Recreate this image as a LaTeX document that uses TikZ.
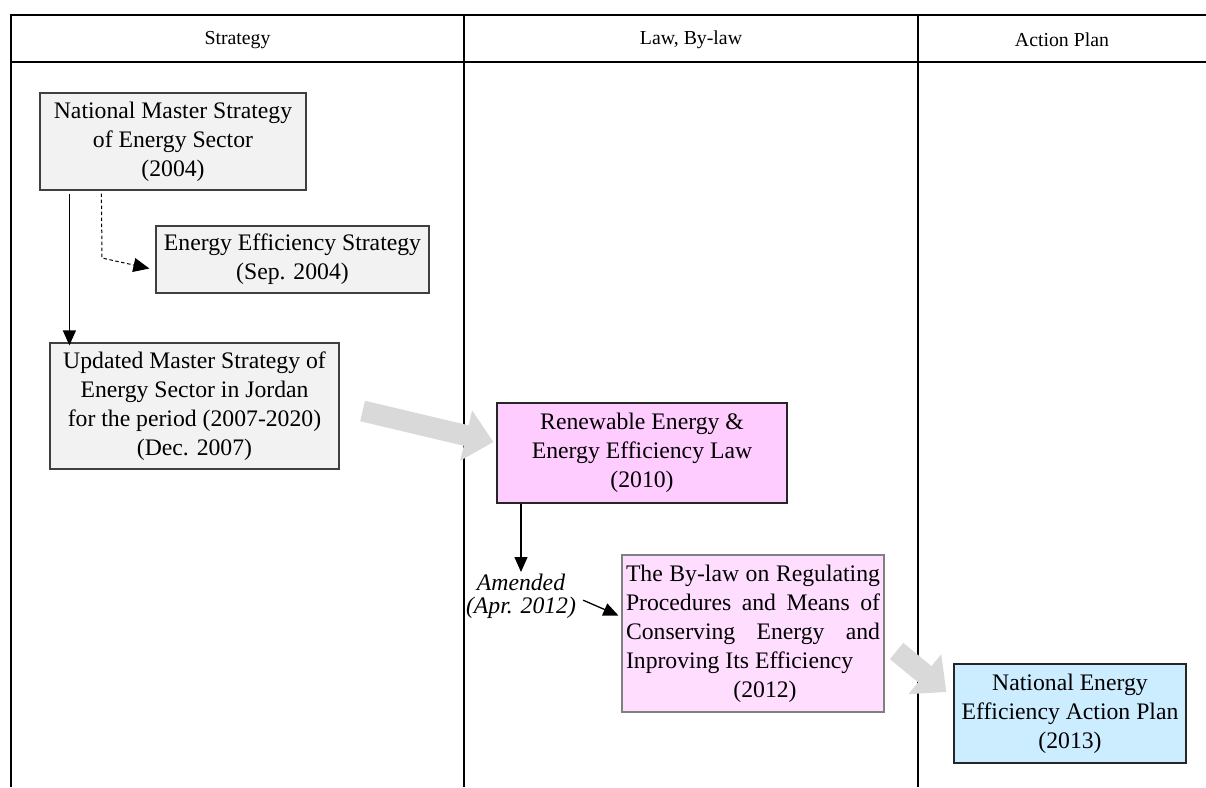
\documentclass[tikz,border=0pt]{standalone}
\usepackage{fontspec}
\setmainfont{Liberation Serif}
\usetikzlibrary{arrows.meta,calc}

\definecolor{boxgray}{HTML}{F2F2F2}
\definecolor{edgegray}{HTML}{3F3F3F}
\definecolor{lawpink}{HTML}{FFCCFF}
\definecolor{bylawpink}{HTML}{FFDDFF}
\definecolor{planblue}{HTML}{CCECFF}
\definecolor{flowgray}{HTML}{D9D9D9}

\newcommand\diagbody{\fontsize{23.7}{29}\selectfont}
\newcommand\diaghead{\fontsize{19.8}{23}\selectfont}

\begin{document}
\begin{tikzpicture}[x=1pt,y=-1pt,
  rule/.style={line width=2.6pt},
  boxbase/.style={draw, line width=1.2pt, inner sep=0pt, align=center, font=\diagbody},
  graybox/.style={boxbase, fill=boxgray, draw=edgegray},
  lawbox/.style={boxbase, fill=lawpink, draw=black!85},
  bylawbox/.style={boxbase, fill=bylawpink, draw=black!50},
  planbox/.style={boxbase, fill=planblue, draw=black!85},
  head/.style={font=\diaghead, inner sep=0pt},
  arr/.style={line width=1.3pt, -{Triangle[length=15pt,width=13pt]}},
  dasharr/.style={line width=1pt, dash pattern=on 3.5pt off 2.5pt, -{Triangle[length=16pt,width=14pt]}},
  bigarr/.style={line width=21pt, draw=flowgray, -{Triangle[length=28pt,width=50pt]}}
]
\useasboundingbox (0,0) rectangle (1206,787);

% table frame
\draw[rule, line join=miter] (11,787) -- (11,15) -- (1206,15);
\draw[rule] (11,62) -- (1206,62);
\draw[rule] (464,15) -- (464,787);
\draw[rule] (918,15) -- (918,787);

% column headings
\node[head] (hstrat) at (237.5,40) {Strategy};
\node[head] (hlaw) at (691,40) {Law, By-law};
\node[head] (hplan) at (1062,40) {Action Plan};

% documents
\node[graybox, minimum width=266pt, minimum height=97pt] (nms) at (173,141.5)
  {National Master Strategy\\of Energy Sector\\(2004)};
\node[graybox, minimum width=273pt, minimum height=67pt] (ees) at (292.5,259.5)
  {Energy Efficiency Strategy\\(Sep. 2004)};
\node[graybox, minimum width=289pt, minimum height=126pt] (upd) at (194.5,406)
  {Updated Master Strategy of\\Energy Sector in Jordan\\for the period (2007-2020)\\(Dec. 2007)};
\node[lawbox, minimum width=290pt, minimum height=100pt] (law) at (642,453)
  {Renewable Energy \&\\Energy Efficiency Law\\(2010)};
\node[bylawbox, minimum width=262pt, minimum height=157pt] (bylaw) at (753,633.5)
  {\makebox[254pt][s]{The By-law on Regulating}\\
   \makebox[254pt][s]{Procedures and Means of}\\
   \makebox[254pt][s]{Conserving Energy and}\\
   \makebox[254pt][l]{Inproving Its Efficiency}\\
   \makebox[254pt][c]{\hspace*{24pt}(2012)}};
\node[planbox, minimum width=232pt, minimum height=99pt] (neeap) at (1070,713.5)
  {National Energy\\Efficiency Action Plan\\(2013)};

\node[font=\fontsize{23.7}{22.5}\selectfont\itshape, align=center, inner sep=2pt, anchor=north]
  (amd) at (521,572) {Amended\\(Apr. 2012)};

% connectors
\coordinate (bend) at (102,258);
\draw[arr] ([xshift=30pt,yshift=-3pt]nms.south west) -- ([xshift=30pt,yshift=-3pt]nms.south west |- upd.north);
\draw[dasharr] ([xshift=62pt,yshift=-3pt]nms.south west) -- (bend) -- ($(ees.west)+(-6,9)$);
\draw[bigarr] ($(upd.east)+(23,5)$) -- ($(law.west)+(-3,-11)$);
\draw[arr] (law.south -| amd.north) -- (amd.north);
\draw[arr] ($(amd.east)+(5,4)$) -- ($(bylaw.west)+(-3,-18)$);
\draw[bigarr] ($(bylaw.east)+(12,17.5)$) -- ($(neeap.west)+(-7,-21.5)$);
\end{tikzpicture}
\end{document}
